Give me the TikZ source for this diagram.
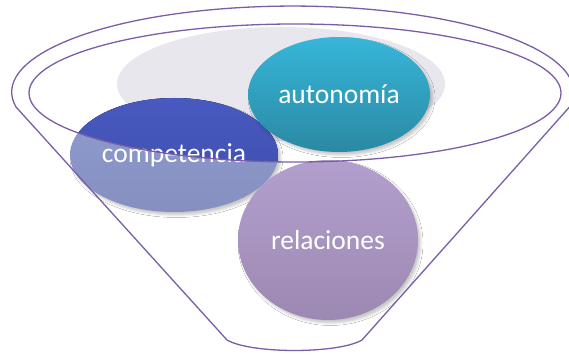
\documentclass[tikz,border=0pt]{standalone}
\usepackage{fontspec}
\setmainfont{Carlito}
\usetikzlibrary{shapes.geometric,shadows.blur}
\definecolor{linec}{HTML}{7B5EA7}
\definecolor{graybg}{HTML}{E9E7EE}
\definecolor{complt}{HTML}{8F9BD0}
\definecolor{complb}{HTML}{8690C0}
\definecolor{compdt}{HTML}{4859C0}
\definecolor{compdb}{HTML}{3E4DAA}
\definecolor{autot}{HTML}{37B6D9}
\definecolor{autob}{HTML}{2A89A3}
\definecolor{relt}{HTML}{B39FCD}
\definecolor{relb}{HTML}{9C89B2}
\begin{document}
\begin{tikzpicture}[x=1pt,y=1pt,
  rim/.style={draw=linec, line width=1.3pt},
  label/.style={text=white, font=\fontsize{27.5}{30}\selectfont, inner sep=0pt},
  bubble/.style={ellipse, inner sep=0pt, label,
    blur shadow={shadow xshift=2.5pt, shadow yshift=-3pt, shadow opacity=22, shadow blur radius=2.5pt}}]
\useasboundingbox (0,0) rectangle (569,355);
\fill[white] (0,0) rectangle (569,355);
% background disc
\fill[graybg] (281,271) ellipse [x radius=164, y radius=57];
% competencia: light part, then dark part inside the rim
\node[bubble, minimum width=208pt, minimum height=114pt, top color=complt, bottom color=complb] (compbg) at (174,200) {};
\begin{scope}
  \clip (295,262) ellipse [x radius=266, y radius=69];
  \fill[top color=compdt, bottom color=compdb] (compbg.center) ellipse [x radius=104, y radius=57];
\end{scope}
\node[label] (comp) at (compbg.center) {competencia};
% autonomia
\node[bubble, minimum width=182pt, minimum height=115pt, top color=autot, bottom color=autob] (auto) at (339,260.5) {autonomía};
% relaciones
\node[bubble, minimum width=180pt, minimum height=160pt, top color=relt, bottom color=relb] (rel) at (328,115) {relaciones};
% inner rim
\draw[rim] (295,262) ellipse [x radius=266, y radius=69];
% funnel outline
\draw[rim] (16,248) arc[start angle=190, end angle=-10, x radius=281, y radius=86]
  -- (362,15) .. controls (338,1) and (251,1) .. (227,15) -- cycle;
\end{tikzpicture}
\end{document}
